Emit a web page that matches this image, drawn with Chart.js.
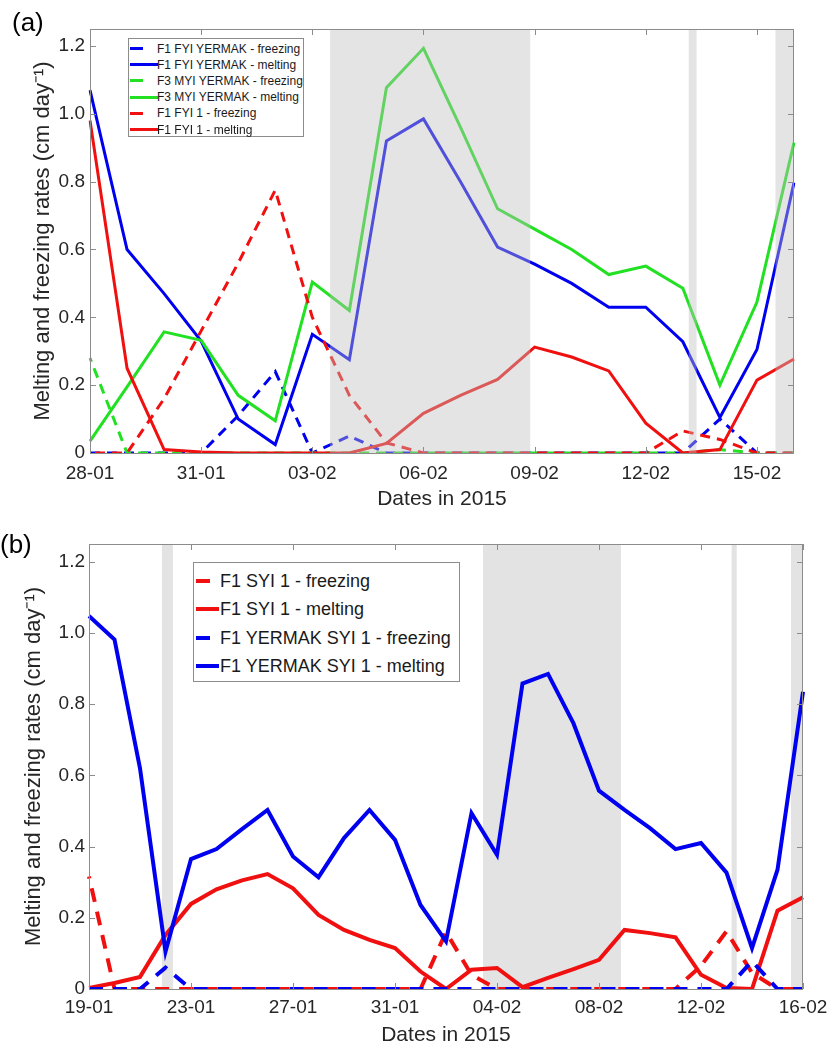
<!DOCTYPE html>
<html>
<head>
<meta charset="utf-8">
<title>Melting and freezing rates</title>
<script src="https://cdn.jsdelivr.net/npm/chart.js@4.4.1/dist/chart.umd.min.js"></script>
<style>
  body { margin: 0; background: #fff; font-family: 'Liberation Sans', Arial, sans-serif; }
  #page { position: relative; width: 835px; height: 1048px; overflow: hidden; }
  .panel { position: absolute; left: 0; width: 835px; }
  .panel canvas { display: block; }
  #panelA { top: 0; height: 520px; }
  #panelB { top: 520px; height: 528px; }
  .tag { position: absolute; font-size: 26px; line-height: 26px; color: #000; }
  .legend { position: absolute; background: #fff; border: 1px solid #8c8c8c; box-sizing: border-box; color: #1a1a1a; }
  .legend .row { position: absolute; left: 0; right: 0; white-space: nowrap; }
  .legend .swatch { position: absolute; }
  .legend .txt { position: absolute; }
</style>
</head>
<body>
<div id="page">
  <div class="panel" id="panelA"><canvas id="chartA" width="835" height="520"></canvas></div>
  <div class="panel" id="panelB"><canvas id="chartB" width="835" height="528"></canvas></div>
  <div class="tag" style="left:12px; top:9px;">(a)</div>
  <div class="tag" style="left:0px; top:531px;">(b)</div>
  <div class="legend" id="legendA" style="left:128px; top:38px; width:176px; height:99px; font-size:12px;"></div>
  <div class="legend" id="legendB" style="left:193px; top:562px; width:267px; height:120px; font-size:18px;"></div>
</div>
<script>
// ---- panel (a) data, one value per day ----
var daysA = ['28-01', '29-01', '30-01', '31-01', '01-02', '02-02', '03-02', '04-02', '05-02', '06-02',
             '07-02', '08-02', '09-02', '10-02', '11-02', '12-02', '13-02', '14-02', '15-02', '16-02'];
var namesA = ['F1 FYI YERMAK - freezing', 'F1 FYI YERMAK - melting', 'F3 MYI YERMAK - freezing',
              'F3 MYI YERMAK - melting', 'F1 FYI 1 - freezing', 'F1 FYI 1 - melting'];
var fyiYermakFreezing = [0, 0, 0, 0, 0.11, 0.24, 0, 0.05, 0, 0, 0, 0, 0, 0, 0, 0, 0, 0.10, 0, 0];
var fyiYermakMelting = [1.07, 0.60, 0.47, 0.33, 0.10, 0.025, 0.35, 0.275, 0.92, 0.985, 0.80, 0.607, 0.557, 0.50, 0.43, 0.43, 0.328, 0.105, 0.305, 0.797];
var myiYermakFreezing = [0.28, 0, 0, 0, 0, 0, 0, 0, 0, 0, 0, 0, 0, 0, 0, 0, 0, 0.01, 0, 0];
var myiYermakMelting = [0.035, 0.195, 0.357, 0.332, 0.17, 0.095, 0.504, 0.42, 1.077, 1.193, 0.96, 0.72, 0.66, 0.60, 0.526, 0.551, 0.486, 0.20, 0.445, 0.915];
var fyi1Freezing = [0, 0, 0.16, 0.36, 0.56, 0.775, 0.40, 0.17, 0.03, 0, 0, 0, 0, 0, 0, 0, 0.065, 0.04, 0, 0];
var fyi1Melting = [0.98, 0.25, 0.01, 0.003, 0, 0, 0, 0, 0.028, 0.117, 0.17, 0.217, 0.312, 0.283, 0.242, 0.088, 0, 0.01, 0.215, 0.277];
// shaded periods, in day index units
var shadesA = [[6.48, 11.88], [16.16, 16.37], [18.5, 19]];

// ---- panel (b) data ----
var daysB = ['19-01', '20-01', '21-01', '22-01', '23-01', '24-01', '25-01', '26-01', '27-01', '28-01',
             '29-01', '30-01', '31-01', '01-02', '02-02', '03-02', '04-02', '05-02', '06-02', '07-02',
             '08-02', '09-02', '10-02', '11-02', '12-02', '13-02', '14-02', '15-02', '16-02'];
var namesB = ['F1 SYI 1 - freezing', 'F1 SYI 1 - melting', 'F1 YERMAK SYI 1 - freezing', 'F1 YERMAK SYI 1 - melting'];
var syi1Freezing = [0.316, 0, 0, 0, 0, 0, 0, 0, 0, 0, 0, 0, 0, 0, 0.16, 0.04, 0, 0, 0, 0, 0, 0, 0, 0, 0.065, 0.162, 0.045, 0, 0];
var syi1Melting = [0.003, 0.017, 0.034, 0.152, 0.239, 0.28, 0.305, 0.323, 0.283, 0.208, 0.166, 0.138, 0.115, 0.049, 0, 0.054, 0.059, 0.005, 0.031, 0.056, 0.082, 0.166, 0.157, 0.145, 0.04, 0.003, 0, 0.22, 0.258];
var yermakSyiFreezing = [0, 0, 0, 0.06, 0, 0, 0, 0, 0, 0, 0, 0, 0, 0, 0, 0, 0, 0, 0, 0, 0, 0, 0, 0, 0, 0, 0.078, 0, 0];
var yermakSyiMelting = [1.048, 0.982, 0.62, 0.105, 0.365, 0.393, 0.449, 0.503, 0.372, 0.314, 0.424, 0.503, 0.419, 0.236, 0.134, 0.494, 0.377, 0.858, 0.885, 0.746, 0.557, 0.503, 0.452, 0.393, 0.41, 0.327, 0.115, 0.335, 0.835];
var shadesB = [[2.86, 3.29], [15.45, 20.86], [25.2, 25.4], [27.53, 28]];

var yTicks = [0, 0.2, 0.4, 0.6, 0.8, 1.0, 1.2];

var BLUE = '#0000f0', GREEN = '#22e022', RED = '#f01010';
var AXIS = '#8c8c8c', TEXT = '#262626';

function line(label, data, color, dashed, width, dash, dashOffset, order) {
    return {
        label: label,
        data: data,
        borderColor: color,
        backgroundColor: color,
        borderWidth: width,
        borderDash: dashed ? dash : [],
        borderDashOffset: dashOffset,
        pointRadius: 0,
        tension: 0,
        fill: false,
        order: order
    };
}

function drawShades(chart, shades, color) {
    var ctx = chart.ctx, xs = chart.scales.x, area = chart.chartArea;
    ctx.save();
    ctx.fillStyle = color;
    shades.forEach(function(s) {
        var x0 = xs.getPixelForValue(s[0]), x1 = xs.getPixelForValue(s[1]);
        ctx.fillRect(x0, area.top, x1 - x0, area.bottom - area.top);
    });
    ctx.restore();
}

// matlab style box with inward tick marks, plus the shaded periods
function boxPlugin(cfg) {
    return {
        id: 'matlabBox',
        beforeDatasetsDraw: function(chart) {
            if (!cfg.overlay) drawShades(chart, cfg.shades, cfg.shadeColor);
        },
        afterDatasetsDraw: function(chart) {
            if (cfg.overlay) drawShades(chart, cfg.shades, cfg.shadeColor);
            var ctx = chart.ctx, a = chart.chartArea, xs = chart.scales.x, ys = chart.scales.y;
            ctx.save();
            ctx.strokeStyle = AXIS;
            ctx.lineWidth = 1;
            ctx.strokeRect(Math.round(a.left) + 0.5, Math.round(a.top) + 0.5,
                           Math.round(a.right - a.left) - 1, Math.round(a.bottom - a.top));
            ctx.beginPath();
            for (var i = 0; i < cfg.labels.length; i += cfg.every) {
                var px = Math.round(xs.getPixelForValue(i)) + 0.5;
                ctx.moveTo(px, a.bottom); ctx.lineTo(px, a.bottom - 6);
                ctx.moveTo(px, a.top); ctx.lineTo(px, a.top + 6);
            }
            yTicks.forEach(function(v) {
                var py = Math.round(ys.getPixelForValue(v)) + 0.5;
                ctx.moveTo(a.left, py); ctx.lineTo(a.left + 6, py);
                ctx.moveTo(a.right, py); ctx.lineTo(a.right - 6, py);
            });
            ctx.stroke();
            ctx.restore();
        }
    };
}

function makeChart(id, cfg) {
    var ctx = document.getElementById(id).getContext('2d');
    return new Chart(ctx, {
        type: 'line',
        data: { labels: cfg.labels, datasets: cfg.datasets },
        options: {
            responsive: false,
            animation: false,
            layout: { padding: { top: cfg.top, right: cfg.right, left: 0, bottom: 0 } },
            plugins: { legend: { display: false }, tooltip: { enabled: false } },
            scales: {
                x: {
                    type: 'category',
                    offset: false,
                    grid: { display: false, drawTicks: false },
                    border: { display: false },
                    ticks: {
                        autoSkip: false, maxRotation: 0, minRotation: 0,
                        padding: cfg.xPad, color: TEXT, font: { size: 19 },
                        callback: function(v, i) { return i % cfg.every === 0 ? this.getLabelForValue(v) : ''; }
                    },
                    title: { display: true, text: 'Dates in 2015', color: TEXT, font: { size: 21 },
                             padding: { top: 0, bottom: cfg.xTitlePad } },
                    afterFit: function(s) { s.height = cfg.xHeight; }
                },
                y: {
                    min: 0, max: 1.25,
                    grid: { display: false, drawTicks: false },
                    border: { display: false },
                    ticks: {
                        stepSize: 0.2, includeBounds: false,
                        padding: cfg.yPad, color: TEXT, font: { size: 19 },
                        callback: function(v) {
                            if (Math.abs(v / 0.2 - Math.round(v / 0.2)) > 1e-6) return '';
                            return Math.abs(v) < 1e-9 ? '0' : v.toFixed(1);
                        }
                    },
                    title: { display: true, text: 'Melting and freezing rates (cm day\u207B\u00B9)', color: TEXT,
                             font: { size: 22 }, padding: { top: cfg.yTitlePad, bottom: 0 } },
                    afterFit: function(s) { s.width = cfg.yWidth; }
                }
            }
        },
        plugins: [boxPlugin(cfg)]
    });
}

function buildLegend(id, names, colors, dashed, o) {
    var box = document.getElementById(id);
    names.forEach(function(name, i) {
        var row = document.createElement('div');
        row.className = 'row';
        row.style.top = (o.first + o.step * i - o.lineH / 2) + 'px';
        row.style.height = o.lineH + 'px';
        row.style.lineHeight = o.lineH + 'px';
        var sw = document.createElement('div');
        sw.className = 'swatch';
        sw.style.left = o.swLeft + 'px';
        sw.style.top = ((o.lineH - o.thick) / 2) + 'px';
        sw.style.width = (dashed[i] ? o.dashW : o.solidW) + 'px';
        sw.style.height = o.thick + 'px';
        sw.style.background = colors[i];
        var tx = document.createElement('span');
        tx.className = 'txt';
        tx.style.left = o.textLeft + 'px';
        tx.textContent = name;
        row.appendChild(sw);
        row.appendChild(tx);
        box.appendChild(row);
    });
}

window.onload = function() {
    Chart.defaults.font.family = "'Liberation Sans', Arial, sans-serif";

    var colorsA = [BLUE, BLUE, GREEN, GREEN, RED, RED];
    var dashedA = [true, false, true, false, true, false];
    var offsetsA = [0, 0, 6, 0, 12, 0];
    var seriesA = [fyiYermakFreezing, fyiYermakMelting, myiYermakFreezing, myiYermakMelting, fyi1Freezing, fyi1Melting];
    var dsA = seriesA.map(function(d, i) {
        return line(namesA[i], d, colorsA[i], dashedA[i], 3, [10, 7], offsetsA[i], seriesA.length - 1 - i);
    });
    window.chartA = makeChart('chartA', {
        labels: daysA, datasets: dsA, every: 3,
        top: 29, right: 41, xHeight: 67, yWidth: 90,
        xPad: 9, yPad: 5, xTitlePad: 8, yTitlePad: 30,
        shades: shadesA, shadeColor: 'rgba(190,190,190,0.42)', overlay: true
    });

    var colorsB = [RED, RED, BLUE, BLUE];
    var dashedB = [true, false, true, false];
    var offsetsB = [12, 0, 0, 0];
    var seriesB = [syi1Freezing, syi1Melting, yermakSyiFreezing, yermakSyiMelting];
    var dsB = seriesB.map(function(d, i) {
        return line(namesB[i], d, colorsB[i], dashedB[i], 4, [14, 10], offsetsB[i], seriesB.length - 1 - i);
    });
    window.chartB = makeChart('chartB', {
        labels: daysB, datasets: dsB, every: 4,
        top: 24, right: 32, xHeight: 59, yWidth: 89,
        xPad: 7, yPad: 4, xTitlePad: 0, yTitlePad: 21,
        shades: shadesB, shadeColor: '#e3e3e3', overlay: false
    });

    buildLegend('legendA', namesA, colorsA, dashedA,
        { first: 9.5, step: 16.2, lineH: 16, thick: 3, swLeft: 1, dashW: 13, solidW: 28, textLeft: 28 });
    buildLegend('legendB', namesB, colorsB, dashedB,
        { first: 17.5, step: 28.6, lineH: 26, thick: 4, swLeft: 2, dashW: 14, solidW: 23, textLeft: 26 });
};
</script>
</body>
</html>
